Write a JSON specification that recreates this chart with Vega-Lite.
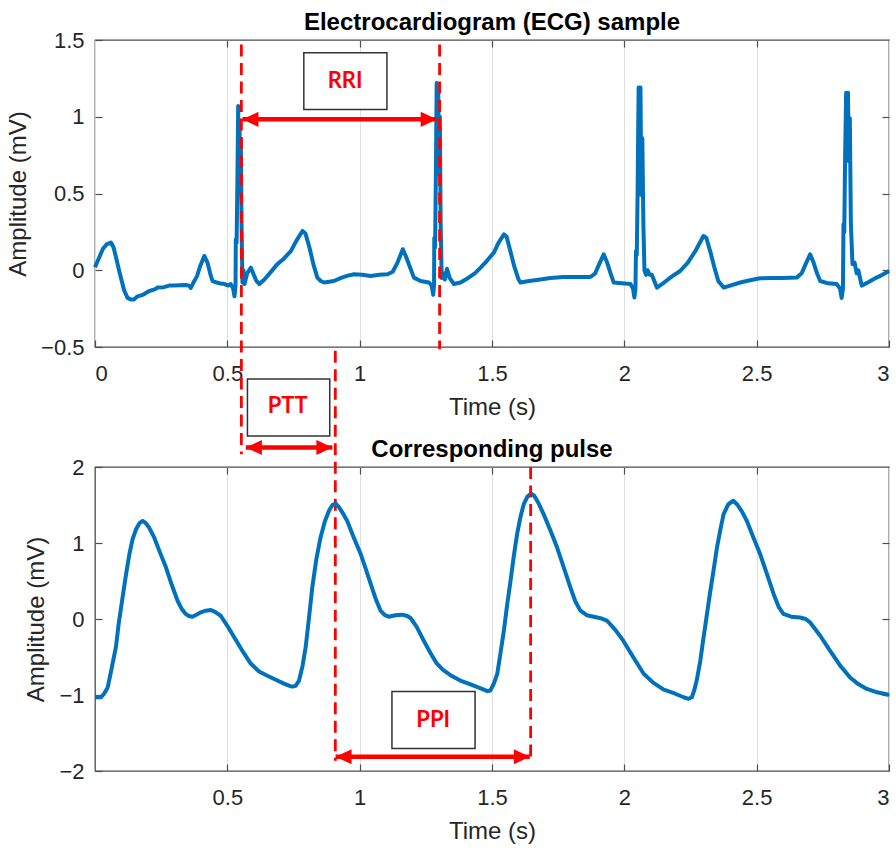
{
  "$schema": "https://vega.github.io/schema/vega-lite/v6.json",
  "background": "white",
  "padding": {"top": 10, "left": 5, "right": 0, "bottom": 0},
  "bounds": "flush",
  "spacing": 120,
  "config": {
    "font": "Liberation Sans",
    "view": {"stroke": "#4d4d4d", "strokeWidth": 1.3},
    "axis": {
      "domain": false,
      "labelFont": "Liberation Sans",
      "labelFontSize": 22,
      "labelColor": "#262626",
      "titleFont": "Liberation Sans",
      "titleFontSize": 24,
      "titleFontWeight": "normal",
      "titleColor": "#262626",
      "tickSize": -7,
      "tickColor": "#4d4d4d",
      "tickWidth": 1.2,
      "gridColor": "#dedede",
      "gridWidth": 1
    },
    "title": {"font": "Liberation Sans", "fontSize": 24, "fontWeight": "bold", "color": "#000000", "offset": -6}
  },
  "datasets": {
    "ecg": [
      {"time":0.000,"amp":0.02},{"time":0.015,"amp":0.08},{"time":0.030,"amp":0.14},{"time":0.045,"amp":0.17},{"time":0.060,"amp":0.18},{"time":0.070,"amp":0.15},{"time":0.080,"amp":0.08},{"time":0.095,"amp":-0.03},{"time":0.110,"amp":-0.13},{"time":0.123,"amp":-0.18},{"time":0.135,"amp":-0.19},{"time":0.148,"amp":-0.19},{"time":0.160,"amp":-0.17},{"time":0.172,"amp":-0.165},{"time":0.186,"amp":-0.155},{"time":0.200,"amp":-0.14},{"time":0.215,"amp":-0.13},{"time":0.225,"amp":-0.125},{"time":0.237,"amp":-0.113},{"time":0.260,"amp":-0.11},{"time":0.280,"amp":-0.10},{"time":0.299,"amp":-0.10},{"time":0.320,"amp":-0.098},{"time":0.343,"amp":-0.096},{"time":0.355,"amp":-0.10},{"time":0.362,"amp":-0.115},{"time":0.372,"amp":-0.08},{"time":0.385,"amp":-0.04},{"time":0.398,"amp":0.03},{"time":0.413,"amp":0.093},{"time":0.425,"amp":0.05},{"time":0.435,"amp":-0.02},{"time":0.444,"amp":-0.07},{"time":0.460,"amp":-0.08},{"time":0.475,"amp":-0.087},{"time":0.490,"amp":-0.09},{"time":0.503,"amp":-0.10},{"time":0.513,"amp":-0.09},{"time":0.522,"amp":-0.12},{"time":0.527,"amp":-0.17},{"time":0.531,"amp":-0.10},{"time":0.532,"amp":0.20},{"time":0.535,"amp":0.18},{"time":0.538,"amp":0.58},{"time":0.541,"amp":1.07},{"time":0.544,"amp":0.60},{"time":0.546,"amp":0.94},{"time":0.549,"amp":0.50},{"time":0.551,"amp":0.85},{"time":0.554,"amp":0.28},{"time":0.557,"amp":-0.08},{"time":0.561,"amp":0.0},{"time":0.565,"amp":-0.09},{"time":0.575,"amp":-0.02},{"time":0.589,"amp":0.017},{"time":0.600,"amp":-0.03},{"time":0.610,"amp":-0.07},{"time":0.621,"amp":-0.09},{"time":0.640,"amp":-0.06},{"time":0.660,"amp":-0.02},{"time":0.689,"amp":0.04},{"time":0.710,"amp":0.07},{"time":0.740,"amp":0.125},{"time":0.760,"amp":0.19},{"time":0.784,"amp":0.256},{"time":0.795,"amp":0.24},{"time":0.810,"amp":0.15},{"time":0.825,"amp":0.04},{"time":0.840,"amp":-0.048},{"time":0.853,"amp":-0.07},{"time":0.866,"amp":-0.08},{"time":0.885,"amp":-0.075},{"time":0.903,"amp":-0.07},{"time":0.930,"amp":-0.05},{"time":0.955,"amp":-0.035},{"time":0.979,"amp":-0.026},{"time":1.010,"amp":-0.03},{"time":1.042,"amp":-0.037},{"time":1.075,"amp":-0.03},{"time":1.105,"amp":-0.026},{"time":1.125,"amp":-0.01},{"time":1.143,"amp":0.05},{"time":1.163,"amp":0.137},{"time":1.175,"amp":0.09},{"time":1.190,"amp":0.02},{"time":1.205,"amp":-0.048},{"time":1.230,"amp":-0.07},{"time":1.262,"amp":-0.08},{"time":1.272,"amp":-0.10},{"time":1.278,"amp":-0.16},{"time":1.281,"amp":-0.10},{"time":1.282,"amp":0.21},{"time":1.285,"amp":0.15},{"time":1.288,"amp":0.63},{"time":1.291,"amp":1.22},{"time":1.294,"amp":0.80},{"time":1.297,"amp":1.15},{"time":1.300,"amp":0.63},{"time":1.303,"amp":1.00},{"time":1.306,"amp":0.30},{"time":1.310,"amp":-0.05},{"time":1.316,"amp":-0.02},{"time":1.322,"amp":-0.06},{"time":1.330,"amp":0.01},{"time":1.340,"amp":-0.05},{"time":1.356,"amp":-0.09},{"time":1.381,"amp":-0.08},{"time":1.410,"amp":-0.05},{"time":1.435,"amp":-0.02},{"time":1.457,"amp":0.017},{"time":1.480,"amp":0.06},{"time":1.507,"amp":0.115},{"time":1.525,"amp":0.18},{"time":1.545,"amp":0.234},{"time":1.555,"amp":0.22},{"time":1.570,"amp":0.12},{"time":1.585,"amp":0.02},{"time":1.600,"amp":-0.06},{"time":1.608,"amp":-0.08},{"time":1.640,"amp":-0.07},{"time":1.683,"amp":-0.06},{"time":1.720,"amp":-0.05},{"time":1.771,"amp":-0.044},{"time":1.820,"amp":-0.044},{"time":1.872,"amp":-0.044},{"time":1.890,"amp":-0.02},{"time":1.905,"amp":0.04},{"time":1.922,"amp":0.104},{"time":1.935,"amp":0.05},{"time":1.948,"amp":-0.02},{"time":1.960,"amp":-0.08},{"time":1.990,"amp":-0.085},{"time":2.023,"amp":-0.09},{"time":2.033,"amp":-0.12},{"time":2.038,"amp":-0.178},{"time":2.042,"amp":-0.12},{"time":2.044,"amp":0.126},{"time":2.047,"amp":0.10},{"time":2.050,"amp":0.49},{"time":2.054,"amp":1.19},{"time":2.058,"amp":0.86},{"time":2.061,"amp":1.19},{"time":2.064,"amp":0.49},{"time":2.068,"amp":0.86},{"time":2.072,"amp":0.30},{"time":2.076,"amp":0.0},{"time":2.082,"amp":-0.03},{"time":2.088,"amp":0.0},{"time":2.096,"amp":-0.03},{"time":2.104,"amp":-0.03},{"time":2.123,"amp":-0.113},{"time":2.150,"amp":-0.08},{"time":2.180,"amp":-0.04},{"time":2.211,"amp":-0.005},{"time":2.240,"amp":0.05},{"time":2.270,"amp":0.13},{"time":2.299,"amp":0.223},{"time":2.310,"amp":0.21},{"time":2.325,"amp":0.12},{"time":2.340,"amp":0.02},{"time":2.355,"amp":-0.07},{"time":2.375,"amp":-0.113},{"time":2.400,"amp":-0.10},{"time":2.438,"amp":-0.08},{"time":2.475,"amp":-0.065},{"time":2.513,"amp":-0.052},{"time":2.560,"amp":-0.05},{"time":2.600,"amp":-0.05},{"time":2.651,"amp":-0.048},{"time":2.670,"amp":-0.02},{"time":2.685,"amp":0.04},{"time":2.702,"amp":0.104},{"time":2.715,"amp":0.05},{"time":2.728,"amp":-0.02},{"time":2.740,"amp":-0.07},{"time":2.770,"amp":-0.085},{"time":2.802,"amp":-0.09},{"time":2.815,"amp":-0.12},{"time":2.821,"amp":-0.18},{"time":2.826,"amp":-0.12},{"time":2.828,"amp":0.30},{"time":2.831,"amp":0.25},{"time":2.834,"amp":0.71},{"time":2.838,"amp":1.156},{"time":2.842,"amp":0.99},{"time":2.845,"amp":1.156},{"time":2.848,"amp":0.71},{"time":2.852,"amp":0.99},{"time":2.856,"amp":0.30},{"time":2.862,"amp":0.04},{"time":2.870,"amp":0.05},{"time":2.878,"amp":-0.02},{"time":2.884,"amp":0.0},{"time":2.897,"amp":-0.10},{"time":2.920,"amp":-0.08},{"time":2.953,"amp":-0.048},{"time":2.975,"amp":-0.03},{"time":3.000,"amp":-0.005}
    ],
    "pulse": [
      {"time":0.000,"amp":-1.03},{"time":0.023,"amp":-1.03},{"time":0.035,"amp":-0.98},{"time":0.048,"amp":-0.90},{"time":0.060,"amp":-0.70},{"time":0.079,"amp":-0.37},{"time":0.090,"amp":-0.05},{"time":0.104,"amp":0.28},{"time":0.117,"amp":0.58},{"time":0.130,"amp":0.855},{"time":0.142,"amp":1.05},{"time":0.155,"amp":1.18},{"time":0.168,"amp":1.26},{"time":0.180,"amp":1.29},{"time":0.192,"amp":1.26},{"time":0.205,"amp":1.20},{"time":0.224,"amp":1.07},{"time":0.245,"amp":0.88},{"time":0.268,"amp":0.68},{"time":0.290,"amp":0.45},{"time":0.312,"amp":0.24},{"time":0.328,"amp":0.13},{"time":0.343,"amp":0.066},{"time":0.355,"amp":0.04},{"time":0.368,"amp":0.03},{"time":0.385,"amp":0.06},{"time":0.400,"amp":0.088},{"time":0.418,"amp":0.11},{"time":0.438,"amp":0.118},{"time":0.455,"amp":0.09},{"time":0.475,"amp":0.043},{"time":0.500,"amp":-0.09},{"time":0.526,"amp":-0.24},{"time":0.557,"amp":-0.42},{"time":0.589,"amp":-0.59},{"time":0.620,"amp":-0.69},{"time":0.651,"amp":-0.746},{"time":0.683,"amp":-0.80},{"time":0.714,"amp":-0.85},{"time":0.735,"amp":-0.88},{"time":0.746,"amp":-0.89},{"time":0.758,"amp":-0.88},{"time":0.771,"amp":-0.81},{"time":0.784,"amp":-0.62},{"time":0.796,"amp":-0.37},{"time":0.808,"amp":0.0},{"time":0.821,"amp":0.416},{"time":0.836,"amp":0.78},{"time":0.852,"amp":1.07},{"time":0.868,"amp":1.28},{"time":0.884,"amp":1.425},{"time":0.897,"amp":1.50},{"time":0.909,"amp":1.52},{"time":0.920,"amp":1.48},{"time":0.935,"amp":1.40},{"time":0.953,"amp":1.29},{"time":0.978,"amp":1.07},{"time":1.004,"amp":0.855},{"time":1.023,"amp":0.66},{"time":1.042,"amp":0.46},{"time":1.060,"amp":0.27},{"time":1.079,"amp":0.11},{"time":1.095,"amp":0.05},{"time":1.110,"amp":0.03},{"time":1.135,"amp":0.05},{"time":1.160,"amp":0.057},{"time":1.180,"amp":0.04},{"time":1.192,"amp":0.013},{"time":1.215,"amp":-0.10},{"time":1.242,"amp":-0.285},{"time":1.268,"amp":-0.45},{"time":1.290,"amp":-0.58},{"time":1.315,"amp":-0.67},{"time":1.343,"amp":-0.74},{"time":1.380,"amp":-0.81},{"time":1.419,"amp":-0.86},{"time":1.455,"amp":-0.91},{"time":1.482,"amp":-0.95},{"time":1.494,"amp":-0.94},{"time":1.507,"amp":-0.85},{"time":1.520,"amp":-0.72},{"time":1.532,"amp":-0.45},{"time":1.545,"amp":-0.15},{"time":1.557,"amp":0.18},{"time":1.570,"amp":0.50},{"time":1.582,"amp":0.82},{"time":1.595,"amp":1.12},{"time":1.608,"amp":1.35},{"time":1.620,"amp":1.51},{"time":1.634,"amp":1.61},{"time":1.648,"amp":1.65},{"time":1.660,"amp":1.62},{"time":1.675,"amp":1.53},{"time":1.695,"amp":1.38},{"time":1.720,"amp":1.17},{"time":1.746,"amp":0.94},{"time":1.771,"amp":0.68},{"time":1.796,"amp":0.416},{"time":1.815,"amp":0.23},{"time":1.834,"amp":0.11},{"time":1.858,"amp":0.05},{"time":1.884,"amp":0.03},{"time":1.910,"amp":0.01},{"time":1.934,"amp":-0.02},{"time":1.965,"amp":-0.14},{"time":1.996,"amp":-0.285},{"time":2.035,"amp":-0.51},{"time":2.073,"amp":-0.72},{"time":2.110,"amp":-0.84},{"time":2.149,"amp":-0.93},{"time":2.190,"amp":-0.98},{"time":2.224,"amp":-1.03},{"time":2.243,"amp":-1.05},{"time":2.255,"amp":-1.03},{"time":2.264,"amp":-0.94},{"time":2.274,"amp":-0.80},{"time":2.287,"amp":-0.55},{"time":2.299,"amp":-0.25},{"time":2.312,"amp":0.06},{"time":2.325,"amp":0.37},{"time":2.338,"amp":0.66},{"time":2.350,"amp":0.94},{"time":2.363,"amp":1.18},{"time":2.375,"amp":1.38},{"time":2.393,"amp":1.51},{"time":2.412,"amp":1.556},{"time":2.428,"amp":1.50},{"time":2.445,"amp":1.41},{"time":2.463,"amp":1.29},{"time":2.488,"amp":1.07},{"time":2.513,"amp":0.855},{"time":2.538,"amp":0.60},{"time":2.564,"amp":0.33},{"time":2.583,"amp":0.16},{"time":2.601,"amp":0.066},{"time":2.630,"amp":0.03},{"time":2.664,"amp":0.02},{"time":2.685,"amp":0.0},{"time":2.702,"amp":-0.045},{"time":2.740,"amp":-0.22},{"time":2.777,"amp":-0.417},{"time":2.815,"amp":-0.61},{"time":2.853,"amp":-0.77},{"time":2.885,"amp":-0.86},{"time":2.916,"amp":-0.92},{"time":2.950,"amp":-0.96},{"time":2.990,"amp":-0.99},{"time":3.000,"amp":-1.00}
    ],
    "topRules": [
      {"time": 0.553, "y1": 1.471, "y2": -1.198},
      {"time": 1.302, "y1": 1.471, "y2": -0.514},
      {"time": 0.908, "y1": -0.524, "y2": -3.195}
    ],
    "bottomRules": [
      {"time": 1.646, "y1": 2.0, "y2": -1.887}
    ],
    "topArrows": [
      {"start": 0.557, "end": 1.291, "level": 0.983},
      {"start": 0.570, "end": 0.897, "level": -1.155}
    ],
    "bottomArrows": [
      {"start": 0.909, "end": 1.643, "level": -1.812}
    ],
    "topBoxes": [
      {"label": "RRI", "left": 0.789, "right": 1.103, "low": 1.048, "high": 1.417, "cx": 0.945, "cy": 1.232},
      {"label": "PTT", "left": 0.576, "right": 0.887, "low": -1.079, "high": -0.708, "cx": 0.728, "cy": -0.885}
    ],
    "bottomBoxes": [
      {"label": "PPI", "left": 1.122, "right": 1.436, "low": -1.703, "high": -0.953, "cx": 1.278, "cy": -1.325}
    ]
  },
  "vconcat": [
    {
      "width": 794,
      "height": 307,
      "title": {"text": "Electrocardiogram (ECG) sample"},
      "resolve": {"axis": {"x": "independent", "y": "independent"}},
      "layer": [
        {
          "data": {"name": "ecg"},
          "mark": {"type": "line", "color": "#0072BD", "strokeWidth": 4, "strokeJoin": "round"},
          "encoding": {
            "x": {"field": "time", "type": "quantitative", "scale": {"domain": [0, 3], "nice": false, "zero": false},
                  "axis": {"orient": "bottom", "title": "Time (s)", "format": "~g", "values": [0, 0.5, 1, 1.5, 2, 2.5, 3], "grid": true, "labelPadding": 23, "titlePadding": 11}},
            "y": {"field": "amp", "type": "quantitative", "scale": {"domain": [-0.5, 1.5], "nice": false, "zero": false},
                  "axis": {"orient": "left", "title": "Amplitude (mV)", "format": "~g", "values": [-0.5, 0, 0.5, 1, 1.5], "grid": false, "labelPadding": 18, "titlePadding": 10}}
          }
        },
        {
          "data": {"name": "topRules"},
          "mark": {"type": "rule", "color": "#ff0000", "strokeWidth": 2.8, "strokeDash": [12, 6.5]},
          "encoding": {
            "x": {"field": "time", "type": "quantitative", "axis": {"orient": "top", "labels": false, "title": null, "grid": false, "values": [0.5, 1, 1.5, 2, 2.5]}},
            "y": {"field": "y1", "type": "quantitative", "axis": {"orient": "right", "labels": false, "title": null, "grid": false, "values": [0, 0.5, 1]}},
            "y2": {"field": "y2"}
          }
        },
        {
          "data": {"name": "topArrows"},
          "mark": {"type": "rule", "color": "#ff0000", "strokeWidth": 4.5},
          "encoding": {
            "x": {"field": "start", "type": "quantitative", "axis": null},
            "x2": {"field": "end"},
            "y": {"field": "level", "type": "quantitative", "axis": null}
          }
        },
        {
          "data": {"name": "topArrows"},
          "mark": {"type": "point", "shape": "M 0 0 L 1 -0.47 L 1 0.47 Z", "filled": true, "opacity": 1, "size": 1024, "color": "#ff0000", "strokeWidth": 0},
          "encoding": {
            "x": {"field": "start", "type": "quantitative", "axis": null},
            "y": {"field": "level", "type": "quantitative", "axis": null}
          }
        },
        {
          "data": {"name": "topArrows"},
          "mark": {"type": "point", "shape": "M 0 0 L -1 -0.47 L -1 0.47 Z", "filled": true, "opacity": 1, "size": 1024, "color": "#ff0000", "strokeWidth": 0},
          "encoding": {
            "x": {"field": "end", "type": "quantitative", "axis": null},
            "y": {"field": "level", "type": "quantitative", "axis": null}
          }
        },
        {
          "data": {"name": "topBoxes"},
          "mark": {"type": "rect", "fill": "#ffffff", "stroke": "#333333", "strokeWidth": 1.5},
          "encoding": {
            "x": {"field": "left", "type": "quantitative", "axis": null},
            "x2": {"field": "right"},
            "y": {"field": "low", "type": "quantitative", "axis": null},
            "y2": {"field": "high"}
          }
        },
        {
          "data": {"name": "topBoxes"},
          "mark": {"type": "text", "font": "Lato", "fontSize": 22, "fontWeight": "bold", "color": "#ff0000", "align": "center", "baseline": "middle"},
          "encoding": {
            "x": {"field": "cx", "type": "quantitative", "axis": null},
            "y": {"field": "cy", "type": "quantitative", "axis": null},
            "text": {"field": "label"}
          }
        }
      ]
    },
    {
      "width": 794,
      "height": 304,
      "title": {"text": "Corresponding pulse"},
      "resolve": {"axis": {"x": "independent", "y": "independent"}},
      "layer": [
        {
          "data": {"name": "pulse"},
          "mark": {"type": "line", "color": "#0072BD", "strokeWidth": 4, "strokeJoin": "round"},
          "encoding": {
            "x": {"field": "time", "type": "quantitative", "scale": {"domain": [0, 3], "nice": false, "zero": false},
                  "axis": {"orient": "bottom", "title": "Time (s)", "format": "~g", "values": [0.5, 1, 1.5, 2, 2.5, 3], "grid": true, "labelPadding": 23, "titlePadding": 11}},
            "y": {"field": "amp", "type": "quantitative", "scale": {"domain": [-2, 2], "nice": false, "zero": false},
                  "axis": {"orient": "left", "title": "Amplitude (mV)", "format": "~g", "values": [-2, -1, 0, 1, 2], "grid": false, "labelPadding": 18, "titlePadding": 10}}
          }
        },
        {
          "data": {"name": "bottomRules"},
          "mark": {"type": "rule", "color": "#ff0000", "strokeWidth": 2.8, "strokeDash": [12, 6.5]},
          "encoding": {
            "x": {"field": "time", "type": "quantitative", "axis": {"orient": "top", "labels": false, "title": null, "grid": false, "values": [0.5, 1, 1.5, 2, 2.5]}},
            "y": {"field": "y1", "type": "quantitative", "axis": {"orient": "right", "labels": false, "title": null, "grid": false, "values": [-1, 0, 1]}},
            "y2": {"field": "y2"}
          }
        },
        {
          "data": {"name": "bottomArrows"},
          "mark": {"type": "rule", "color": "#ff0000", "strokeWidth": 4.5},
          "encoding": {
            "x": {"field": "start", "type": "quantitative", "axis": null},
            "x2": {"field": "end"},
            "y": {"field": "level", "type": "quantitative", "axis": null}
          }
        },
        {
          "data": {"name": "bottomArrows"},
          "mark": {"type": "point", "shape": "M 0 0 L 1 -0.47 L 1 0.47 Z", "filled": true, "opacity": 1, "size": 1024, "color": "#ff0000", "strokeWidth": 0},
          "encoding": {
            "x": {"field": "start", "type": "quantitative", "axis": null},
            "y": {"field": "level", "type": "quantitative", "axis": null}
          }
        },
        {
          "data": {"name": "bottomArrows"},
          "mark": {"type": "point", "shape": "M 0 0 L -1 -0.47 L -1 0.47 Z", "filled": true, "opacity": 1, "size": 1024, "color": "#ff0000", "strokeWidth": 0},
          "encoding": {
            "x": {"field": "end", "type": "quantitative", "axis": null},
            "y": {"field": "level", "type": "quantitative", "axis": null}
          }
        },
        {
          "data": {"name": "bottomBoxes"},
          "mark": {"type": "rect", "fill": "#ffffff", "stroke": "#333333", "strokeWidth": 1.5},
          "encoding": {
            "x": {"field": "left", "type": "quantitative", "axis": null},
            "x2": {"field": "right"},
            "y": {"field": "low", "type": "quantitative", "axis": null},
            "y2": {"field": "high"}
          }
        },
        {
          "data": {"name": "bottomBoxes"},
          "mark": {"type": "text", "font": "Lato", "fontSize": 22, "fontWeight": "bold", "color": "#ff0000", "align": "center", "baseline": "middle"},
          "encoding": {
            "x": {"field": "cx", "type": "quantitative", "axis": null},
            "y": {"field": "cy", "type": "quantitative", "axis": null},
            "text": {"field": "label"}
          }
        }
      ]
    }
  ]
}
